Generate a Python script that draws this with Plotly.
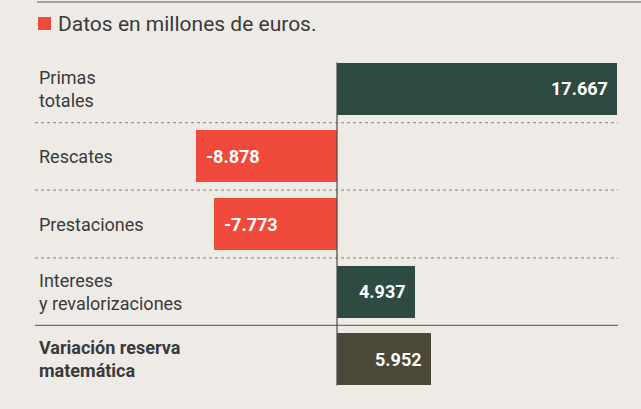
import plotly.graph_objects as go

# Flujos del seguro de vida, en millones de euros
categorias = ["Primas<br>totales", "Rescates", "Prestaciones",
              "Intereses<br>y revalorizaciones",
              "<b>Variación reserva<br>matemática</b>"]
valores = [17667, -8878, -7773, 4937, 5952]
colores = ["#2e4b43", "#ef4a3b", "#ef4a3b", "#2e4b43", "#4b4837"]
titulo = "Datos en millones de euros."

FONDO = "#eeebe6"
TEXTO = "#3a3a3a"
FUENTE = "Roboto"

filas = list(range(len(valores)))

fig = go.Figure(go.Bar(
    x=valores,
    y=filas,
    orientation="h",
    width=0.77,
    marker=dict(color=colores, line=dict(width=0)),
    hoverinfo="skip",
))

fig.update_layout(
    width=641, height=409,
    margin=dict(l=0, r=0, t=55, b=16),
    paper_bgcolor=FONDO, plot_bgcolor=FONDO,
    showlegend=False,
    bargap=0,
    xaxis=dict(range=[-21262, 19180], visible=False, fixedrange=True),
    yaxis=dict(range=[4.5, -0.5], visible=False, fixedrange=True),
)


def miles(v):
    return f"{v:,}".replace(",", ".")


# cifras dentro del extremo de cada barra
for i, v in enumerate(valores):
    fig.add_annotation(
        x=v, xref="x", y=i, yref="y",
        text=f"<b>{miles(v)}</b>", showarrow=False,
        xanchor="right" if v > 0 else "left",
        xshift=-7 if v > 0 else 8, yanchor="middle",
        font=dict(family=FUENTE, size=18, color="white"),
    )

# etiquetas de categoría a la izquierda
for i, cat in enumerate(categorias):
    fig.add_annotation(
        x=37 / 641, xref="paper", y=i, yref="y",
        text=cat, showarrow=False, xanchor="left", yanchor="middle",
        align="left", font=dict(family=FUENTE, size=18, color=TEXTO),
    )

# separadores punteados entre filas y línea continua antes del total
for i in range(len(valores) - 1):
    ultimo = i == len(valores) - 2
    fig.add_shape(
        type="line", xref="paper", yref="y",
        x0=35 / 641, x1=618 / 641, y0=i + 0.5, y1=i + 0.5,
        line=dict(color="#6f6f6f" if ultimo else "#9a9a9a",
                  width=1.2, dash="solid" if ultimo else "dot"),
        layer="below",
    )

# eje del cero
fig.add_shape(
    type="line", xref="x", yref="y",
    x0=0, x1=0, y0=-0.39, y1=4.39,
    line=dict(color="#4a4a4a", width=1.2), layer="above",
)

# filete superior
fig.add_shape(
    type="line", xref="paper", yref="paper",
    x0=37 / 641, x1=1, y0=1 + 53 / 338, y1=1 + 53 / 338,
    line=dict(color="#8a8a8a", width=1.5),
)

# cuadro rojo y título
fig.add_shape(
    type="rect", xref="paper", yref="paper",
    x0=38 / 641, x1=51 / 641,
    y0=1 + (55 - 30) / 338, y1=1 + (55 - 17) / 338,
    fillcolor="#ef4a3b", line=dict(width=0),
)
fig.add_annotation(
    x=56 / 641, xref="paper", y=1 + (55 - 24) / 338, yref="paper",
    text=titulo, showarrow=False, xanchor="left", yanchor="middle",
    font=dict(family=FUENTE, size=21, color=TEXTO),
)

fig.write_html("out.html")
